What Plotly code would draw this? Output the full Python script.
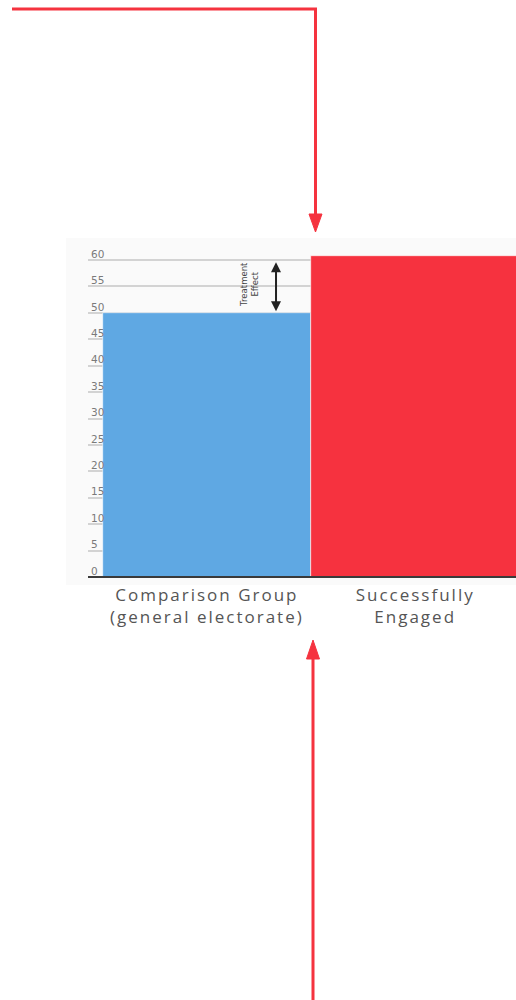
import plotly.graph_objects as go

# ---- data ----
categories = ["Comparison Group<br>(general electorate)", "Successfully<br>Engaged"]
values = [50.0, 60.8]
bar_colors = ["#5fa8e3", "#f6323f"]
y_ticks = list(range(0, 61, 5))
effect_label = "Treatment<br>Effect"
effect_arrow_top = 59.6

# ---- layout geometry (pixels) ----
W, H = 516, 1000
ML, MR, MT, MB = 88, 0, 239, 417
PW, PH = W - ML - MR, H - MT - MB
PX_PER_UNIT = 5.283
Y0_PIX = 577  # pixel row of value 0
Y_MIN = -(H - MB - Y0_PIX) / PX_PER_UNIT
Y_MAX = Y_MIN + PH / PX_PER_UNIT


def px(x):
    return (x - ML) / PW


def py(y):
    return (H - MB - y) / PH


RED = "#f5333f"

fig = go.Figure()
fig.add_trace(go.Bar(
    x=categories, y=values, width=1,
    marker=dict(color=bar_colors, line=dict(width=0.6, color="white")),
    hoverinfo="skip",
))

shapes = [
    # faint panel background
    dict(type="rect", xref="paper", yref="paper", x0=px(66), x1=px(516), y0=py(585), y1=py(238),
         fillcolor="#fafafa", line=dict(width=0), layer="below"),
    # baseline at 0
    dict(type="line", xref="paper", yref="y", x0=0, x1=1, y0=0, y1=0,
         line=dict(color="#3a3a3a", width=2.2), layer="above"),
    # top red connector
    dict(type="path", xref="paper", yref="paper",
         path=f"M {px(12)},{py(9)} L {px(315.5)},{py(9)} L {px(315.5)},{py(216)}",
         line=dict(color=RED, width=3)),
    dict(type="path", xref="paper", yref="paper",
         path=f"M {px(309)},{py(214)} L {px(322)},{py(214)} L {px(315.5)},{py(232)} Z",
         fillcolor=RED, line=dict(color=RED, width=1)),
    # bottom red connector
    dict(type="line", xref="paper", yref="paper", x0=px(313), x1=px(313), y0=py(1000), y1=py(657),
         line=dict(color=RED, width=3)),
    dict(type="path", xref="paper", yref="paper",
         path=f"M {px(306.5)},{py(659)} L {px(319.5)},{py(659)} L {px(313)},{py(640)} Z",
         fillcolor=RED, line=dict(color=RED, width=1)),
]

annotations = [
    dict(x=0.332, y=effect_arrow_top, ax=0.332, ay=values[0], xref="x", yref="y",
         axref="x", ayref="y", text="", showarrow=True, arrowhead=2, startarrowhead=2,
         arrowside="end+start", arrowsize=1, arrowwidth=2, arrowcolor="#222"),
    dict(x=0.205, y=(values[0] + values[1]) / 2, xref="x", yref="y", text=effect_label,
         showarrow=False, textangle=-90,
         font=dict(size=8.5, color="#444", family="DejaVu Sans")),
]

fig.update_layout(
    width=W, height=H,
    margin=dict(l=ML, r=MR, t=MT, b=MB),
    paper_bgcolor="white", plot_bgcolor="rgba(0,0,0,0)",
    showlegend=False, bargap=0,
    shapes=shapes, annotations=annotations,
    xaxis=dict(
        range=[-0.5706, 1.484], showgrid=False, zeroline=False,
        showline=False, ticklabelstandoff=0,
        tickfont=dict(size=17, color="#555", family="Open Sans"),
        ticks="", fixedrange=True,
    ),
    yaxis=dict(
        range=[Y_MIN, Y_MAX], tickvals=y_ticks, ticktext=[str(v) for v in y_ticks],
        showgrid=True, gridcolor="#d3d3d3", gridwidth=1.5, zeroline=False,
        showline=False, ticks="", ticklabelposition="inside", ticklabelshift=-6,
        ticklabelstandoff=0, fixedrange=True,
        tickfont=dict(size=10.5, color="#7a7a7a", family="DejaVu Sans"),
    ),
)

post = (
    "document.body.style.margin='0';"
    "document.body.style.overflow='hidden';"
    "document.querySelectorAll('.xtick text').forEach(function(t){t.style.letterSpacing='2px';});"
)

fig.write_html("out.html", post_script=post, config={"displayModeBar": False})
